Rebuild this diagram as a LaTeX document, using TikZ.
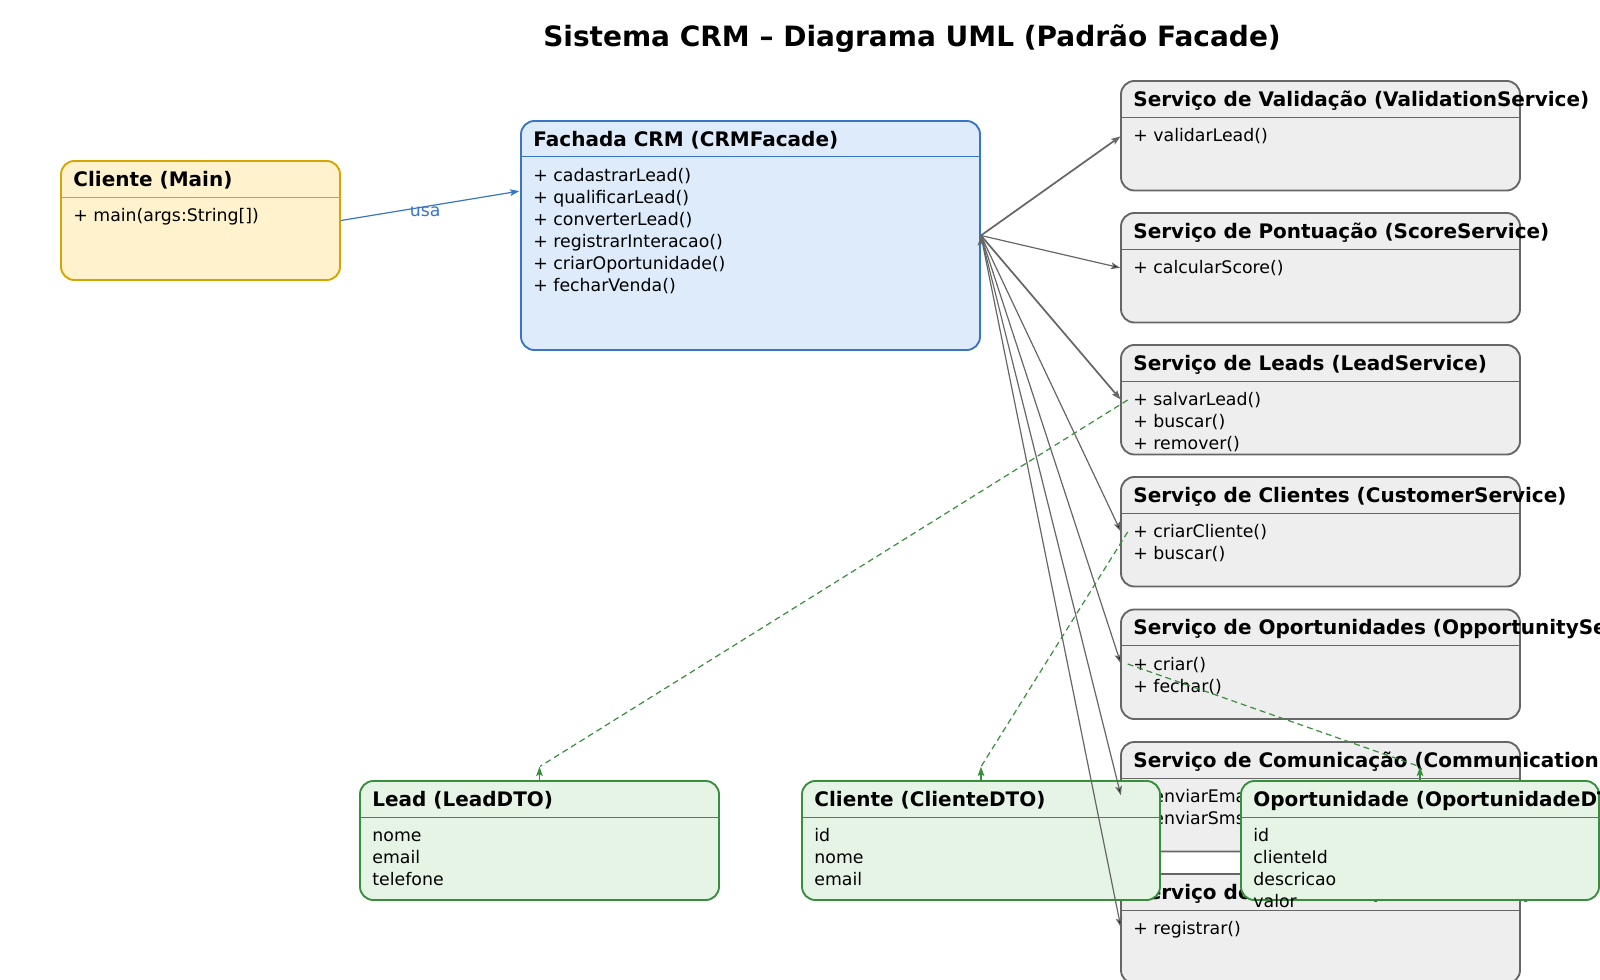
\documentclass[tikz,border=0pt]{standalone}
\usepackage{fontspec}
\setmainfont{DejaVu Sans}
\usetikzlibrary{arrows.meta, fit, positioning}
\definecolor{mainfill}{RGB}{255,242,204}
\definecolor{mainline}{RGB}{214,165,0}
\definecolor{facfill}{RGB}{221,235,251}
\definecolor{facline}{RGB}{58,117,196}
\definecolor{svcfill}{RGB}{238,238,238}
\definecolor{svcline}{RGB}{102,102,102}
\definecolor{dtofill}{RGB}{230,244,230}
\definecolor{dtoline}{RGB}{56,142,60}

\begin{document}
\begin{tikzpicture}[x=0.75pt,y=-0.75pt,>={Stealth[length=7pt,width=5pt,inset=1.5pt]},shorten >=0.5pt,semithick]
  \tikzstyle{classbox}=[rounded corners=10pt,inner sep=0pt,line width=1.4pt]
  \tikzstyle{svc}=[classbox,draw=svcline,fill=svcfill]
  \tikzstyle{dto}=[classbox,draw=dtoline,fill=dtofill]
  \tikzstyle{hdr}=[anchor=west,inner sep=0pt,font=\bfseries\fontsize{15}{18}\selectfont]
  \tikzstyle{meth}=[anchor=north west,inner sep=0pt,align=left,font=\fontsize{13}{16.5}\selectfont]
  \tikzstyle{sep}=[line width=0.7pt]
  \tikzstyle{callarrow}=[->,draw=svcline,line width=0.9pt]
  \tikzstyle{dep}=[draw=dtoline,line width=0.9pt,dash pattern=on 4.5pt off 3pt]
  \tikzstyle{depstub}=[->,draw=dtoline,line width=0.9pt,shorten >=0pt]

  \useasboundingbox (0,0) rectangle (1600,980);
  \node[font=\bfseries\fontsize{21}{25}\selectfont] (title) at (912,39)
    {Sistema CRM – Diagrama UML (Padrão Facade)};

  % servicos
  \node[svc, fit={(1121,81) (1520,190.5)}] (val) {};
  \node[hdr] (valT) at (1133,100.5) {Serviço de Validação (ValidationService)};
  \draw[sep,svcline] (1121,117) -- (1520,117);
  \node[meth] (valM) at (1133,126) {\strut+ validarLead()};

  \node[svc, fit={(1121,213) (1520,322.5)}] (sco) {};
  \node[hdr] (scoT) at (1133,232.5) {Serviço de Pontuação (ScoreService)};
  \draw[sep,svcline] (1121,249) -- (1520,249);
  \node[meth] (scoM) at (1133,258) {\strut+ calcularScore()};

  \node[svc, fit={(1121,345) (1520,454.5)}] (leads) {};
  \node[hdr] (leadsT) at (1133,364.5) {Serviço de Leads (LeadService)};
  \draw[sep,svcline] (1121,381) -- (1520,381);
  \node[meth] (leadsM) at (1133,390) {\strut+ salvarLead()\\+ buscar()\\+ remover()};

  \node[svc, fit={(1121,477) (1520,586.5)}] (cust) {};
  \node[hdr] (custT) at (1133,496.5) {Serviço de Clientes (CustomerService)};
  \draw[sep,svcline] (1121,513) -- (1520,513);
  \node[meth] (custM) at (1133,522) {\strut+ criarCliente()\\+ buscar()};

  \node[svc, fit={(1121,609.5) (1520,719)}] (opp) {};
  \node[hdr] (oppT) at (1133,629) {Serviço de Oportunidades (OpportunityService)};
  \draw[sep,svcline] (1121,645.5) -- (1520,645.5);
  \node[meth] (oppM) at (1133,654.5) {\strut+ criar()\\+ fechar()};

  \node[svc, fit={(1121,742) (1520,851.5)}] (com) {};
  \node[hdr] (comT) at (1133,761.5) {Serviço de Comunicação (CommunicationService)};
  \draw[sep,svcline] (1121,778) -- (1520,778);
  \node[meth] (comM) at (1133,787) {\strut+ enviarEmail()\\+ enviarSms()};

  \node[svc, fit={(1121,874) (1520,983.5)}] (aud) {};
  \node[hdr] (audT) at (1133,893.5) {Serviço de Auditoria (AuditService)};
  \draw[sep,svcline] (1121,910) -- (1520,910);
  \node[meth] (audM) at (1133,919) {\strut+ registrar()};

  % cliente e fachada
  \node[classbox, draw=mainline, fill=mainfill, fit={(61,161) (340,280)}] (main) {};
  \node[hdr] (mainT) at (73,180.5) {Cliente (Main)};
  \draw[sep,mainline] (61,197) -- (340,197);
  \node[meth] (mainM) at (73,206) {\strut+ main(args:String[])};

  \node[classbox, draw=facline, fill=facfill, fit={(521,121) (980,350)}] (fac) {};
  \node[hdr] (facT) at (533,140.5) {Fachada CRM (CRMFacade)};
  \draw[sep,facline] (521,156.5) -- (980,156.5);
  \node[meth] (facM) at (533,166) {\strut+ cadastrarLead()\\+ qualificarLead()\\+ converterLead()\\
    + registrarInteracao()\\+ criarOportunidade()\\+ fecharVenda()};

  % DTOs
  \node[dto, fit={(360,781) (719,900)}] (lead) {};
  \node[hdr] (leadT) at (372,800.5) {Lead (LeadDTO)};
  \draw[sep,dtoline] (360,817) -- (719,817);
  \node[meth] (leadM) at (372,826) {\strut nome\\email\\telefone};

  \node[dto, fit={(802,781) (1160,900)}] (cli) {};
  \node[hdr] (cliT) at (814,800.5) {Cliente (ClienteDTO)};
  \draw[sep,dtoline] (802,817) -- (1160,817);
  \node[meth] (cliM) at (814,826) {\strut id\\nome\\email};

  \node[dto, fit={(1241,781) (1599,900)}] (opor) {};
  \node[hdr] (oporT) at (1253,800.5) {Oportunidade (OportunidadeDTO)};
  \draw[sep,dtoline] (1241,817) -- (1599,817);
  \node[meth] (oporM) at (1253,826) {\strut id\\clienteId\\descricao\\valor};

  % pontos de chegada
  \coordinate (facIn)   at (520,191);
  \coordinate (valIn)   at (1121,136);
  \coordinate (scoIn)   at (1121,268);
  \coordinate (leadsIn) at (1121,400);
  \coordinate (custIn)  at (1121,532);
  \coordinate (oppIn)   at (1121,664);
  \coordinate (comIn)   at (1121,796);
  \coordinate (audIn)   at (1121,928);

  \path (main.east) edge[->, draw=facline, line width=0.9pt]
        node[pos=0.47, yshift=-4pt, text=facline, font=\fontsize{13}{16}\selectfont] {usa} (facIn);

  \path[callarrow] (fac.east) edge[line width=1.3pt] (valIn)
                              edge (scoIn)
                              edge[line width=1.3pt] (leadsIn)
                              edge (custIn)
                              edge (oppIn)
                              edge (comIn)
                              edge (audIn);

  \draw[dep] ([xshift=5pt]leadsIn) -- ([yshift=10pt]lead.north);
  \draw[dep] ([xshift=5pt]custIn) -- ([yshift=10pt]cli.north);
  \draw[dep] ([xshift=5pt]oppIn) -- ([yshift=10pt]opor.north);
  \draw[depstub] (lead.north) -- ([yshift=10pt]lead.north);
  \draw[depstub] (cli.north) -- ([yshift=10pt]cli.north);
  \draw[depstub] (opor.north) -- ([yshift=10pt]opor.north);
\end{tikzpicture}
\end{document}
